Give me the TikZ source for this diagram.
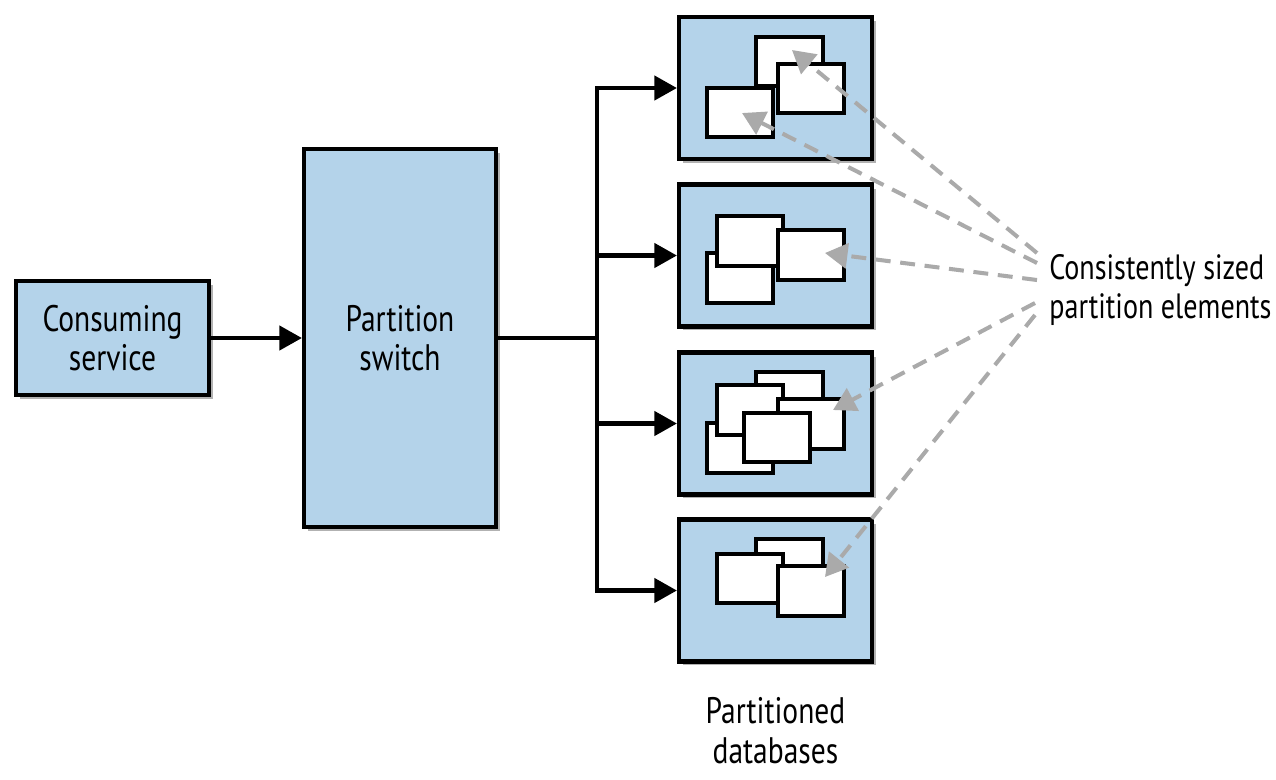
\documentclass[tikz,border=0pt]{standalone}
\usepackage{fontspec}
\setmainfont{PT Sans}[FakeStretch=0.8]
\usetikzlibrary{arrows.meta,shadows,positioning}
\definecolor{boxblau}{RGB}{180,211,234}
\definecolor{pfeilgrau}{RGB}{170,170,170}
\tikzset{
    kasten/.style={draw=black, line width=2.4pt, fill=boxblau, inner sep=0pt, align=center,
        drop shadow={shadow xshift=0.08cm, shadow yshift=-0.08cm, opacity=0.3, fill=black}},
    dbkasten/.style={kasten, minimum width=3.86cm, minimum height=2.84cm},
    element/.style={draw=black, line width=2.1pt, fill=white, inner sep=0pt,
        minimum width=1.33cm, minimum height=0.99cm},
    verbindung/.style={line width=2.4pt, -{Triangle[length=0.45cm,width=0.48cm]}},
    hinweispfeil/.style={pfeilgrau, line width=2.3pt, dash pattern=on 8.5pt off 5.5pt,
        -{Triangle[length=0.45cm,width=0.5cm]}}
}
\begin{document}
\begin{tikzpicture}[x=0.02cm, y=-0.02cm, font=\fontsize{21pt}{22.5pt}\selectfont]
    \useasboundingbox (0,0) rectangle (1276,779);

    % Dienst und Weiche
    \node[kasten, minimum width=3.86cm, minimum height=2.28cm] (dienst) at (112.5,338) {Consuming\\service};
    \node[kasten, minimum width=3.84cm, minimum height=7.56cm] (weiche) at (400,338) {Partition\\switch};
    \draw[verbindung] (dienst.east) -- (weiche.west);

    % Datenbanken
    \foreach \y [count=\i] in {88,255.5,423.5,590.5} {
        \node[dbkasten] (db\i) at (775.5,\y) {};
    }
    \node[align=center, anchor=north, inner sep=0pt] (dbtext) at (db4.south |- 0,697) {Partitioned\\databases};

    % Elemente
    \foreach \n/\x/\y in {e1a/789.5/61.5, e1b/811/88.5, e1c/740/112.5,
                          e2a/740/278, e2b/750/241, e2c/811/255,
                          e3a/789.5/396.5, e3b/740/448, e3c/750/410, e3d/811/424, e3e/777/437.5,
                          e4a/789.5/563.5, e4b/750/578.5, e4c/811/591} {
        \node[element] (\n) at (\x,\y) {};
    }

    % Verteiler
    \coordinate (verteiler) at (597,338);
    \draw[line width=1.9pt] (weiche.east) -- (verteiler);
    \draw[line width=2.4pt, line cap=rect] (verteiler |- db1.west) -- (verteiler |- db4.west);
    \foreach \i in {1,...,4} {
        \draw[verbindung] (verteiler |- db\i.west) -- (db\i.west);
    }

    % Hinweise
    \node[align=left, anchor=west, inner sep=0pt, font=\fontsize{20pt}{22pt}\selectfont] (erklaerung) at (1049,290) {Consistently sized\\partition elements};
    \draw[hinweispfeil] ([shift={(-12,-37)}]erklaerung.west) -- ([shift={(2.5,-11.5)}]e1a.center);
    \draw[hinweispfeil] ([shift={(-12,-27)}]erklaerung.west) -- ([shift={(2,0.5)}]e1c.center);
    \draw[hinweispfeil] ([shift={(-12,-10)}]erklaerung.west) -- ([shift={(14,-2)}]e2c.center);
    \draw[hinweispfeil] ([shift={(-14,13)}]erklaerung.west) -- ([shift={(22,-14)}]e3d.center);
    \draw[hinweispfeil] ([shift={(-14,25)}]erklaerung.west) -- ([shift={(14,-14)}]e4c.center);
\end{tikzpicture}
\end{document}
